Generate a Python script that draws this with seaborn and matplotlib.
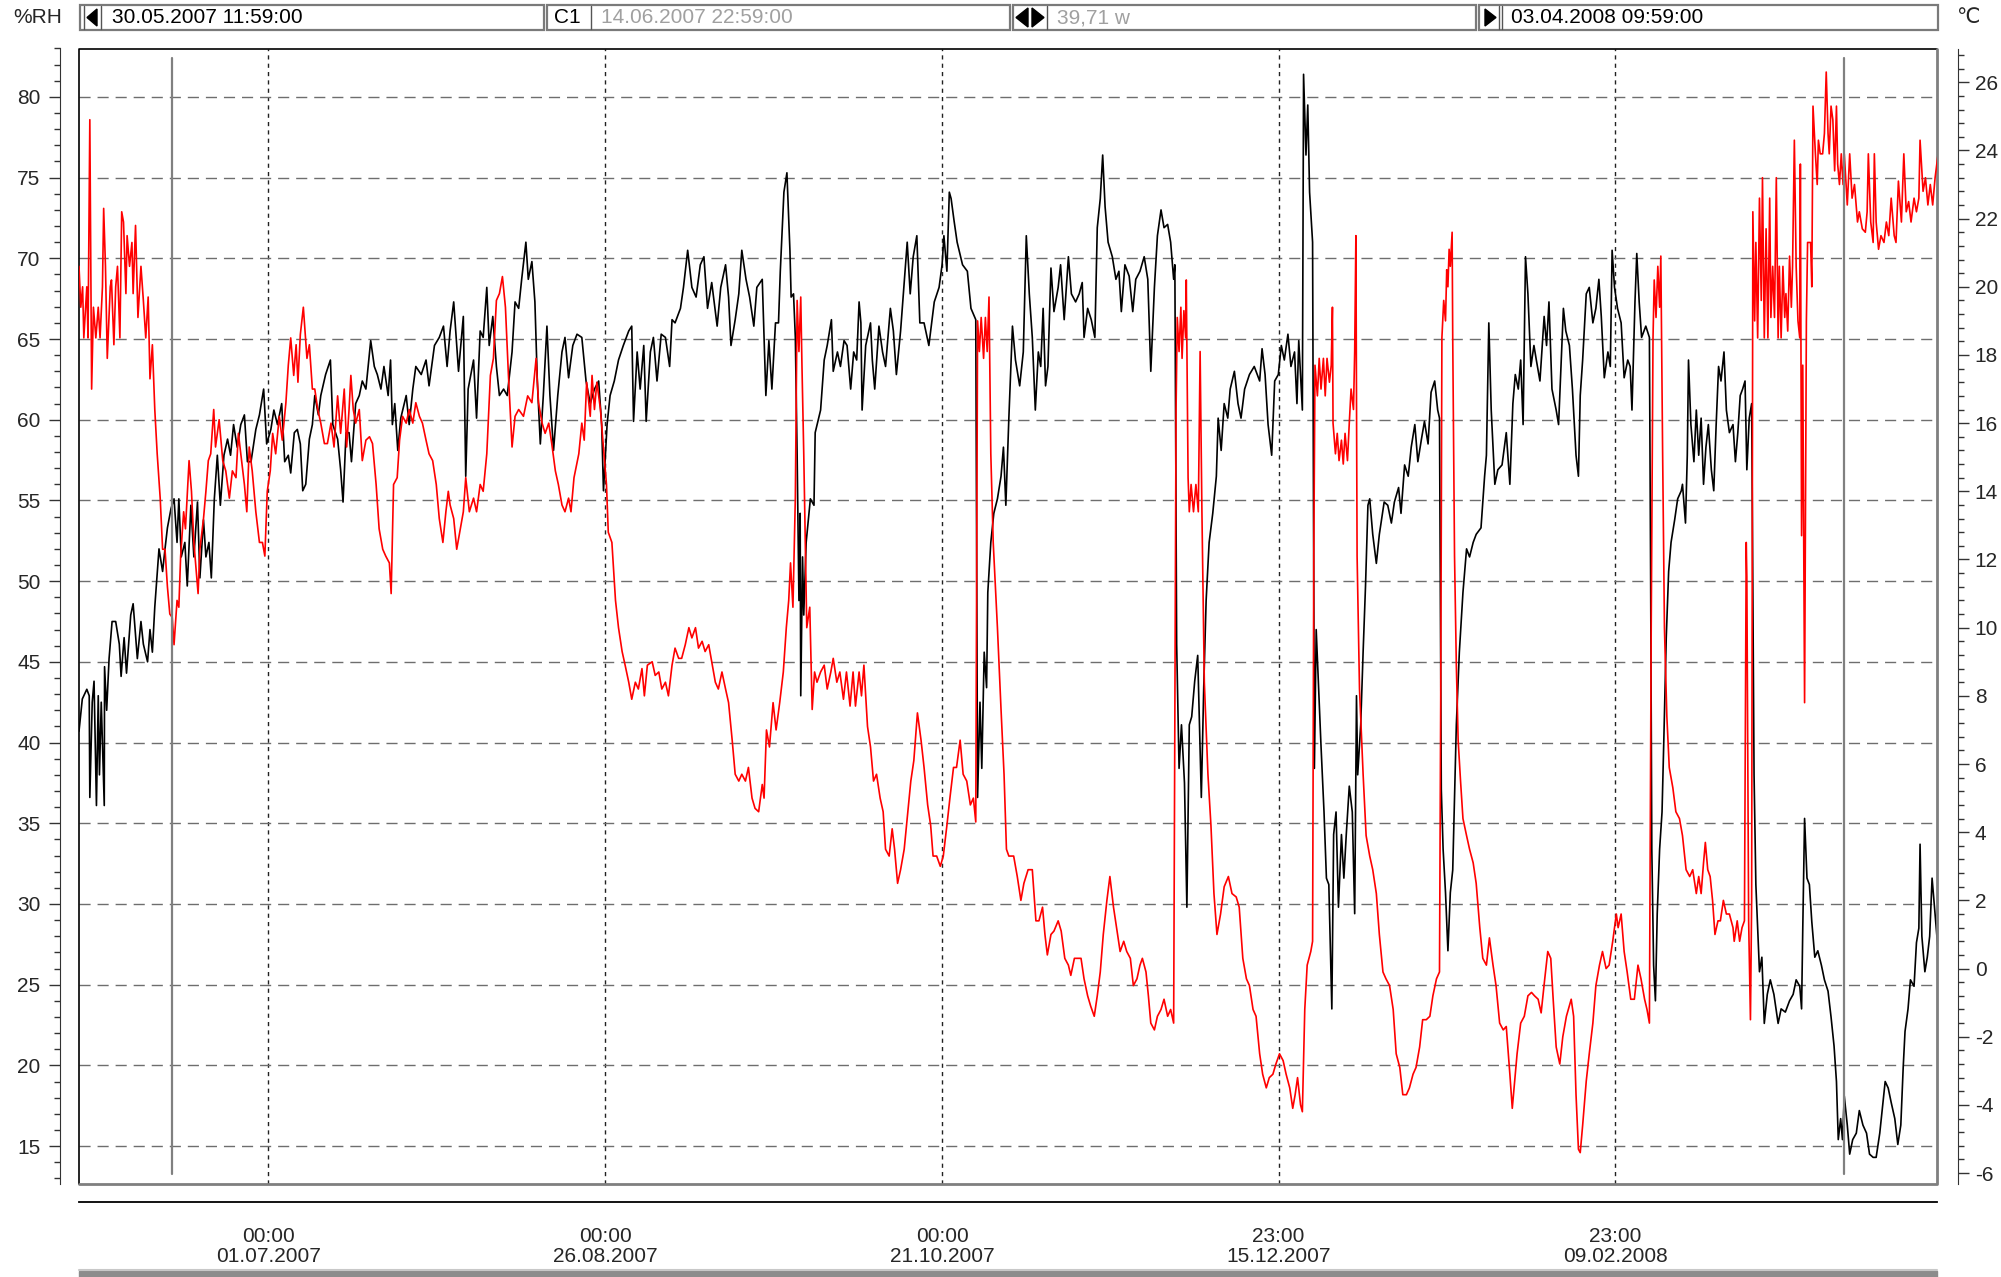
import pandas as pd
import matplotlib
matplotlib.use("Agg")
import matplotlib.pyplot as plt
import matplotlib.dates as mdates
from matplotlib.patches import Rectangle, Polygon
from matplotlib.ticker import MultipleLocator, FixedLocator
import seaborn as sns

# ---- Logger window / cursors (from the header) ----
start = pd.Timestamp("2007-05-30 11:59")
end = pd.Timestamp("2008-04-03 09:59")
cursor_c1 = pd.Timestamp("2007-06-14 22:59")
cursor_span_weeks = 39.71

# ---- Relative humidity (%RH), (days after start, value) ----
rh_readings = [
    (0.0, 40.7), (0.55, 42.7), (1.3, 43.3), (1.7, 42.9), (1.8, 36.6), (2.2, 42.5), (2.5, 43.8), (2.9, 36.1),
    (3.2, 42.9), (3.4, 38.0), (3.7, 42.5), (4.2, 36.1), (4.25, 44.7), (4.6, 42.0), (5.0, 45.2), (5.5, 47.5),
    (6.1, 47.5), (6.7, 46.1), (7.0, 44.1), (7.5, 46.5), (7.9, 44.3), (8.6, 47.9), (9.0, 48.6), (9.7, 45.2),
    (10.3, 47.5), (10.7, 46.1), (11.4, 45.0), (11.8, 47.0), (12.2, 45.6), (12.6, 48.4), (13.3, 52.0), (13.9, 50.6),
    (14.3, 52.0), (14.7, 53.3), (15.3, 54.5), (15.8, 55.1), (16.3, 52.4), (16.6, 55.1), (17.0, 51.5), (17.6, 52.4),
    (18.0, 49.7), (18.6, 54.7), (19.1, 51.5), (19.7, 54.9), (20.1, 50.2), (20.7, 53.8), (21.1, 51.5), (21.6, 52.4),
    (22.0, 50.2), (22.5, 55.1), (23.0, 57.8), (23.5, 54.7), (24.1, 57.8), (24.7, 58.8), (25.2, 57.8), (25.7, 59.7),
    (26.3, 58.3), (26.9, 59.7), (27.5, 60.3), (28.0, 57.4), (28.6, 57.4), (29.4, 59.4), (30.0, 60.3), (30.7, 61.9),
    (31.2, 58.5), (31.9, 59.4), (32.4, 60.6), (33.0, 59.7), (33.7, 61.0), (34.2, 57.4), (34.8, 57.8), (35.2, 56.7),
    (35.8, 59.2), (36.3, 59.4), (36.8, 58.5), (37.2, 55.6), (37.7, 56.0), (38.3, 58.8), (38.8, 59.7), (39.2, 61.5),
    (39.8, 60.3), (40.2, 61.5), (41.0, 62.8), (41.8, 63.7), (42.2, 59.7), (43.0, 58.8), (43.5, 56.9), (43.9, 54.9),
    (44.4, 59.2), (44.9, 59.2), (45.3, 57.4), (46.0, 61.0), (46.6, 61.5), (47.1, 62.4), (47.7, 61.9), (48.5, 64.9),
    (49.1, 63.3), (49.6, 62.8), (50.2, 61.9), (50.7, 63.3), (51.4, 61.5), (51.8, 63.7), (52.1, 59.7), (52.5, 61.0),
    (53.0, 58.1), (53.5, 60.1), (54.4, 61.5), (54.9, 59.7), (55.5, 61.9), (56.0, 63.3), (56.9, 62.8), (57.7, 63.7),
    (58.2, 62.1), (59.1, 64.6), (59.9, 65.1), (60.6, 65.8), (61.2, 63.3), (61.7, 65.5), (62.3, 67.3), (63.1, 63.0),
    (63.9, 66.4), (64.3, 56.5), (64.7, 61.9), (65.6, 63.7), (66.1, 60.1), (66.7, 65.5), (67.2, 65.1), (67.8, 68.2),
    (68.2, 64.6), (68.8, 66.4), (69.4, 63.3), (69.9, 61.5), (70.6, 61.9), (71.2, 61.5), (72.0, 64.2), (72.5, 67.3),
    (73.1, 66.9), (73.6, 68.7), (74.3, 71.0), (74.7, 68.7), (75.3, 69.8), (75.8, 67.3), (76.2, 62.4), (76.7, 58.5),
    (77.2, 61.5), (77.8, 65.8), (78.3, 61.5), (78.9, 58.1), (79.6, 61.5), (80.3, 64.2), (80.8, 65.1), (81.4, 62.6),
    (82.1, 64.6), (82.8, 65.3), (83.6, 65.1), (84.3, 62.4), (85.0, 61.0), (85.7, 61.9), (86.4, 62.4), (86.9, 59.7),
    (87.2, 55.6), (87.8, 59.7), (88.3, 61.5), (89.0, 62.4), (89.7, 63.7), (90.5, 64.6), (91.4, 65.5), (91.9, 65.8),
    (92.2, 59.9), (92.8, 64.2), (93.3, 61.9), (93.9, 64.6), (94.3, 59.9), (95.0, 64.2), (95.5, 65.1), (96.1, 62.4),
    (96.8, 65.3), (97.5, 65.1), (98.2, 63.3), (98.6, 66.2), (99.1, 66.0), (100.0, 66.9), (100.5, 68.2), (101.2, 70.5),
    (101.9, 68.2), (102.6, 67.6), (103.3, 69.6), (103.9, 70.1), (104.5, 66.9), (105.2, 68.5), (106.1, 65.8), (106.7, 68.2),
    (107.5, 69.6), (108.0, 67.6), (108.4, 64.6), (109.1, 66.2), (109.7, 67.8), (110.2, 70.5), (110.9, 68.7), (111.5, 67.6),
    (112.2, 65.8), (112.7, 68.2), (113.6, 68.7), (114.2, 61.5), (114.7, 64.9), (115.2, 61.9), (115.8, 66.0), (116.3, 66.0),
    (116.6, 69.2), (117.2, 74.1), (117.7, 75.3), (118.2, 70.5), (118.4, 67.6), (118.8, 67.8), (119.1, 65.1), (119.4, 57.8),
    (119.7, 48.8), (119.9, 54.2), (120.0, 42.9), (120.3, 51.5), (120.5, 47.9), (120.9, 52.4), (121.6, 55.1), (122.2, 54.7),
    (122.4, 59.2), (123.3, 60.6), (123.9, 63.7), (124.4, 64.6), (125.1, 66.2), (125.4, 63.0), (126.1, 64.2), (126.6, 63.3),
    (127.2, 64.9), (127.7, 64.6), (128.3, 61.9), (128.8, 64.2), (129.3, 63.7), (129.7, 67.3), (130.0, 66.0), (130.2, 60.6),
    (130.8, 64.6), (131.6, 66.0), (131.9, 63.7), (132.3, 61.9), (133.0, 65.8), (133.6, 64.2), (134.1, 63.3), (134.9, 66.9),
    (135.4, 65.5), (135.9, 62.8), (136.6, 65.5), (137.2, 68.5), (137.7, 71.0), (138.2, 67.8), (138.7, 70.1), (139.3, 71.4),
    (139.8, 66.0), (140.5, 66.0), (141.3, 64.6), (142.2, 67.3), (143.0, 68.2), (143.5, 69.6), (143.8, 71.4), (144.3, 69.2),
    (144.7, 74.1), (145.0, 73.7), (145.5, 72.3), (146.0, 71.0), (146.9, 69.6), (147.7, 69.2), (148.3, 66.9), (149.1, 66.2),
    (149.4, 36.6), (149.8, 42.5), (150.1, 38.4), (150.5, 45.6), (150.9, 43.4), (151.1, 49.3), (151.6, 52.4), (152.1, 54.2),
    (152.7, 55.1), (153.3, 56.5), (153.7, 58.3), (154.1, 54.7), (154.6, 60.1), (155.2, 65.8), (155.7, 63.7), (156.4, 62.1),
    (157.0, 64.2), (157.5, 71.4), (158.0, 67.8), (158.5, 65.1), (159.0, 60.6), (159.5, 64.2), (159.9, 63.3), (160.3, 66.9),
    (160.7, 62.1), (161.1, 63.3), (161.6, 69.4), (162.1, 66.7), (162.8, 68.2), (163.2, 69.6), (163.8, 66.2), (164.5, 70.1),
    (165.0, 67.8), (165.7, 67.3), (166.3, 67.8), (166.8, 68.5), (167.1, 65.1), (167.7, 66.9), (168.3, 66.2), (168.9, 65.1),
    (169.3, 71.9), (169.8, 73.7), (170.2, 76.4), (170.6, 73.2), (171.1, 71.0), (171.8, 70.1), (172.4, 68.7), (172.9, 69.2),
    (173.3, 66.7), (173.9, 69.6), (174.6, 68.9), (175.2, 66.7), (175.7, 68.7), (176.4, 69.2), (177.1, 70.1), (177.7, 68.7),
    (178.2, 63.0), (178.8, 68.2), (179.3, 71.4), (179.9, 73.0), (180.4, 71.9), (181.0, 72.1), (181.5, 71.0), (182.0, 68.7),
    (182.2, 69.6), (182.5, 46.1), (182.9, 38.4), (183.3, 41.1), (183.8, 37.5), (184.2, 29.8), (184.6, 41.1), (185.0, 41.6),
    (185.5, 43.8), (186.0, 45.4), (186.6, 36.6), (187.0, 43.4), (187.4, 48.8), (187.9, 52.4), (188.5, 54.2), (189.1, 56.5),
    (189.4, 60.1), (189.9, 58.1), (190.4, 61.0), (191.0, 60.1), (191.4, 61.9), (192.1, 63.0), (192.7, 61.0), (193.2, 60.1),
    (193.8, 61.9), (194.6, 62.8), (195.4, 63.3), (196.3, 62.4), (196.7, 64.4), (197.2, 62.8), (197.7, 59.7), (198.3, 57.8),
    (198.8, 62.4), (199.4, 62.8), (199.9, 64.6), (200.4, 63.7), (201.0, 65.3), (201.5, 63.3), (202.1, 64.2), (202.5, 61.0),
    (202.8, 64.9), (203.4, 60.6), (203.6, 81.4), (204.0, 76.4), (204.3, 79.5), (204.6, 74.1), (205.1, 71.0), (205.4, 38.4),
    (205.7, 47.0), (206.1, 43.4), (206.5, 39.8), (207.0, 35.7), (207.4, 31.6), (207.8, 31.2), (208.1, 26.7), (208.3, 23.5),
    (208.6, 34.3), (209.0, 35.7), (209.4, 29.8), (209.9, 34.3), (210.3, 31.6), (210.7, 34.3), (211.2, 37.3), (211.7, 35.7),
    (212.1, 29.4), (212.4, 42.9), (212.6, 38.0), (213.1, 41.1), (213.5, 45.6), (213.9, 49.7), (214.3, 54.7), (214.6, 55.1),
    (215.1, 52.9), (215.7, 51.1), (216.2, 52.9), (217.0, 54.9), (217.6, 54.7), (218.2, 53.6), (218.7, 54.9), (219.4, 55.8),
    (219.8, 54.2), (220.4, 57.2), (221.0, 56.5), (221.5, 58.3), (222.1, 59.7), (222.6, 57.4), (223.2, 58.8), (223.7, 59.9),
    (224.3, 58.5), (224.8, 61.7), (225.4, 62.4), (225.9, 60.6), (226.2, 60.1), (226.5, 37.1), (226.8, 33.4), (227.2, 30.7),
    (227.6, 27.1), (228.0, 30.7), (228.4, 32.1), (229.0, 41.1), (229.5, 45.6), (230.1, 49.3), (230.7, 52.0), (231.2, 51.5),
    (231.8, 52.4), (232.3, 52.9), (233.1, 53.3), (233.7, 56.5), (234.0, 57.8), (234.4, 66.0), (234.8, 60.6), (235.4, 56.0),
    (235.9, 56.9), (236.6, 57.2), (237.3, 59.2), (237.9, 56.0), (238.4, 61.0), (238.8, 62.8), (239.3, 61.9), (239.7, 63.7),
    (240.1, 59.7), (240.5, 70.1), (240.9, 67.8), (241.4, 63.3), (241.9, 64.6), (242.3, 63.7), (242.9, 62.4), (243.6, 66.4),
    (244.0, 64.6), (244.4, 67.3), (244.9, 61.9), (245.6, 60.6), (246.0, 59.7), (246.5, 64.2), (246.8, 66.9), (247.2, 65.5),
    (247.8, 64.6), (248.3, 61.9), (248.9, 57.8), (249.3, 56.5), (249.6, 61.5), (250.0, 63.7), (250.6, 67.8), (251.1, 68.2),
    (251.7, 66.0), (252.2, 66.9), (252.7, 68.7), (253.1, 66.4), (253.6, 62.6), (254.2, 64.2), (254.6, 63.3), (254.9, 70.5),
    (255.3, 68.2), (255.8, 66.9), (256.4, 66.0), (256.9, 62.6), (257.5, 63.7), (257.9, 63.3), (258.2, 60.6), (258.7, 67.3),
    (259.0, 70.3), (259.4, 67.3), (259.8, 65.1), (260.5, 65.8), (261.1, 65.1), (261.3, 50.6), (261.5, 33.4), (261.8, 26.2),
    (262.1, 24.0), (262.4, 29.4), (262.8, 33.4), (263.2, 35.7), (263.5, 40.2), (263.9, 46.5), (264.3, 50.6), (264.7, 52.4),
    (265.3, 53.8), (265.8, 55.1), (266.4, 55.6), (266.6, 56.0), (267.1, 53.6), (267.4, 57.8), (267.6, 63.7), (268.0, 59.7),
    (268.5, 57.4), (268.9, 60.6), (269.3, 57.8), (269.7, 60.1), (270.1, 56.0), (270.5, 58.3), (270.9, 59.7), (271.4, 56.9),
    (271.8, 55.6), (272.2, 59.7), (272.6, 63.3), (273.0, 62.4), (273.5, 64.2), (273.9, 60.6), (274.4, 59.2), (275.0, 59.7),
    (275.4, 57.4), (275.8, 59.2), (276.2, 61.5), (276.6, 61.9), (277.0, 62.4), (277.3, 56.9), (277.7, 60.1), (278.1, 61.0),
    (278.5, 38.0), (278.8, 31.2), (279.4, 25.8), (279.8, 26.7), (280.2, 22.6), (280.7, 24.4), (281.2, 25.3), (281.8, 24.4),
    (282.5, 22.6), (283.0, 23.5), (283.7, 23.3), (284.4, 24.0), (285.0, 24.4), (285.5, 25.3), (286.1, 24.9), (286.4, 23.5),
    (286.6, 28.5), (286.9, 35.3), (287.3, 31.6), (287.7, 31.2), (288.1, 28.9), (288.6, 26.7), (289.1, 27.1), (289.7, 26.2),
    (290.2, 25.3), (290.8, 24.6), (291.3, 23.0), (291.8, 21.2), (292.2, 19.0), (292.5, 15.4), (292.9, 16.7), (293.2, 15.4),
    (293.5, 18.1), (294.0, 16.3), (294.4, 14.5), (294.9, 15.4), (295.5, 15.8), (296.0, 17.2), (296.6, 16.3), (297.2, 15.8),
    (297.7, 14.5), (298.3, 14.3), (298.8, 14.3), (299.4, 15.8), (299.8, 17.2), (300.3, 19.0), (300.8, 18.6), (301.3, 17.7),
    (301.9, 16.7), (302.4, 15.1), (302.9, 16.3), (303.3, 19.9), (303.6, 22.1), (304.1, 23.5), (304.5, 25.3), (305.1, 24.9),
    (305.5, 27.6), (305.9, 28.5), (306.1, 33.7), (306.4, 28.0), (306.9, 25.8), (307.3, 26.7), (307.7, 28.0), (308.1, 31.6),
    (308.5, 29.8), (309.1, 27.1),
]

# ---- Temperature (°C), (days after start, value) ----
temp_readings = [
    (0.0, 20.6), (0.3, 19.4), (0.6, 20.0), (0.8, 18.5), (1.3, 20.0), (1.5, 18.5), (1.8, 24.9), (2.1, 17.0),
    (2.4, 19.4), (2.8, 18.5), (3.2, 19.4), (3.5, 18.5), (3.9, 20.0), (4.1, 22.3), (4.4, 20.6), (4.7, 17.9),
    (5.2, 20.0), (5.4, 20.2), (5.8, 18.3), (6.1, 20.0), (6.4, 20.6), (6.8, 18.5), (7.1, 22.2), (7.4, 21.9),
    (7.8, 19.8), (8.0, 21.5), (8.4, 20.6), (8.8, 21.3), (9.0, 19.8), (9.4, 21.8), (9.8, 19.1), (10.3, 20.6),
    (10.7, 19.6), (11.1, 18.5), (11.5, 19.7), (11.8, 17.3), (12.2, 18.3), (12.6, 16.4), (13.0, 15.1), (13.5, 13.8),
    (13.9, 12.3), (14.3, 12.3), (14.7, 11.2), (15.1, 10.4), (15.5, 10.3), (15.8, 9.5), (16.3, 10.8), (16.6, 10.6),
    (16.9, 12.1), (17.4, 13.4), (17.7, 12.9), (18.3, 14.9), (18.7, 14.0), (19.1, 12.5), (19.8, 11.0), (20.1, 12.3),
    (20.7, 13.2), (21.1, 14.0), (21.5, 14.9), (21.9, 15.1), (22.4, 16.4), (22.7, 15.3), (23.3, 16.1), (23.9, 14.9),
    (24.4, 14.6), (25.0, 13.8), (25.5, 14.6), (26.1, 14.4), (26.5, 15.7), (26.9, 15.1), (27.5, 14.2), (27.9, 13.4),
    (28.3, 15.3), (28.8, 14.6), (29.4, 13.4), (30.0, 12.5), (30.5, 12.5), (30.9, 12.1), (31.3, 14.0), (31.8, 14.6),
    (32.2, 15.7), (32.7, 15.1), (33.3, 16.2), (33.8, 15.5), (34.4, 16.6), (34.8, 17.7), (35.2, 18.5), (35.7, 17.4),
    (36.1, 18.3), (36.4, 17.2), (36.8, 18.6), (37.3, 19.4), (37.9, 17.9), (38.3, 18.3), (38.8, 17.0), (39.2, 17.0),
    (39.7, 16.4), (40.2, 16.0), (40.8, 15.4), (41.3, 15.4), (41.9, 16.0), (42.4, 15.3), (43.0, 16.8), (43.5, 15.7),
    (44.1, 17.0), (44.5, 15.3), (44.9, 16.4), (45.2, 17.4), (45.6, 16.4), (46.0, 16.0), (46.6, 16.4), (47.1, 14.9),
    (47.7, 15.5), (48.3, 15.6), (48.8, 15.4), (49.4, 14.2), (49.9, 12.9), (50.5, 12.3), (51.0, 12.1), (51.6, 11.9),
    (51.9, 11.0), (52.3, 14.2), (52.9, 14.4), (53.3, 15.5), (53.8, 16.2), (54.4, 16.0), (54.9, 16.4), (55.5, 16.0),
    (56.0, 16.6), (56.6, 16.2), (57.1, 16.0), (57.7, 15.5), (58.2, 15.1), (58.8, 14.9), (59.4, 14.2), (59.9, 13.2),
    (60.5, 12.5), (61.0, 13.4), (61.4, 14.0), (61.7, 13.6), (62.3, 13.2), (62.8, 12.3), (63.4, 12.9), (63.9, 13.4),
    (64.3, 14.4), (64.9, 13.4), (65.6, 13.8), (66.1, 13.4), (66.7, 14.2), (67.2, 14.0), (67.8, 15.1), (68.4, 17.4),
    (68.9, 17.9), (69.4, 19.6), (69.9, 19.8), (70.4, 20.3), (70.9, 19.4), (71.4, 17.4), (72.0, 15.3), (72.5, 16.2),
    (73.1, 16.4), (73.9, 16.2), (74.6, 16.8), (75.3, 16.6), (76.0, 17.9), (76.4, 16.6), (77.0, 16.0), (77.5, 15.7),
    (78.1, 16.0), (78.6, 15.4), (79.2, 14.6), (79.7, 14.2), (80.3, 13.6), (80.8, 13.4), (81.4, 13.8), (81.8, 13.4),
    (82.3, 14.4), (83.1, 15.1), (83.6, 16.0), (84.0, 15.5), (84.4, 17.2), (85.0, 16.2), (85.3, 17.4), (85.7, 16.4),
    (86.1, 17.2), (86.7, 16.4), (87.1, 15.5), (87.7, 14.2), (88.0, 12.8), (88.6, 12.5), (89.2, 10.8), (89.7, 10.0),
    (90.3, 9.3), (90.8, 8.9), (91.4, 8.4), (91.9, 7.9), (92.5, 8.4), (93.0, 8.2), (93.6, 8.8), (94.0, 8.0),
    (94.5, 8.9), (95.3, 9.0), (95.8, 8.6), (96.4, 8.7), (96.9, 8.2), (97.5, 8.4), (98.0, 8.0), (98.6, 8.9),
    (99.1, 9.4), (99.7, 9.1), (100.2, 9.1), (100.8, 9.5), (101.4, 10.0), (101.9, 9.7), (102.5, 10.0), (103.0, 9.4),
    (103.6, 9.6), (104.1, 9.3), (104.7, 9.5), (105.2, 9.0), (105.8, 8.4), (106.3, 8.2), (106.9, 8.7), (107.5, 8.2),
    (108.0, 7.8), (108.6, 6.7), (109.1, 5.7), (109.7, 5.5), (110.2, 5.7), (110.8, 5.5), (111.3, 5.9), (111.9, 5.0),
    (112.4, 4.7), (113.0, 4.6), (113.6, 5.4), (113.9, 5.0), (114.3, 7.0), (114.8, 6.5), (115.4, 7.8), (115.9, 7.0),
    (116.5, 7.8), (117.1, 8.7), (117.6, 10.0), (118.0, 10.8), (118.3, 11.9), (118.7, 10.6), (119.1, 13.8), (119.4, 19.6),
    (119.7, 18.1), (120.0, 19.7), (120.2, 17.7), (120.5, 15.1), (120.8, 12.1), (121.0, 10.0), (121.5, 10.6), (121.9, 7.6),
    (122.3, 8.7), (122.7, 8.4), (123.3, 8.7), (123.9, 8.9), (124.4, 8.2), (125.0, 8.7), (125.4, 9.1), (126.0, 8.4),
    (126.5, 8.7), (127.1, 7.9), (127.6, 8.7), (128.2, 7.7), (128.7, 8.7), (129.1, 7.7), (129.7, 8.7), (130.1, 8.0),
    (130.5, 8.9), (131.1, 7.1), (131.6, 6.5), (132.1, 5.5), (132.6, 5.7), (133.2, 5.0), (133.7, 4.6), (134.1, 3.5),
    (134.7, 3.3), (135.2, 4.1), (135.6, 3.5), (136.1, 2.5), (136.6, 2.9), (137.2, 3.5), (137.7, 4.4), (138.3, 5.5),
    (138.8, 6.1), (139.4, 7.5), (140.0, 6.7), (140.5, 5.9), (141.1, 4.8), (141.6, 4.2), (142.0, 3.3), (142.6, 3.3),
    (143.2, 3.0), (143.7, 3.3), (144.3, 4.2), (144.8, 5.0), (145.4, 5.9), (145.9, 5.9), (146.5, 6.7), (147.0, 5.7),
    (147.6, 5.5), (148.2, 4.8), (148.7, 5.0), (149.1, 4.3), (149.4, 19.0), (149.7, 18.1), (150.0, 19.1), (150.4, 17.9),
    (150.7, 19.1), (151.0, 18.1), (151.3, 19.7), (151.6, 15.1), (152.0, 12.5), (152.7, 10.0), (153.3, 7.6), (153.8, 5.7),
    (154.2, 3.5), (154.6, 3.3), (155.4, 3.3), (156.0, 2.7), (156.6, 2.0), (157.1, 2.5), (157.8, 2.9), (158.5, 2.9),
    (159.1, 1.4), (159.6, 1.4), (160.2, 1.8), (160.6, 1.0), (161.0, 0.4), (161.6, 1.0), (162.1, 1.1), (162.8, 1.4),
    (163.3, 1.1), (163.9, 0.3), (164.5, 0.1), (164.9, -0.2), (165.5, 0.3), (166.0, 0.3), (166.6, 0.3), (167.1, -0.3),
    (167.7, -0.8), (168.2, -1.1), (168.8, -1.4), (169.3, -0.8), (169.8, -0.1), (170.3, 1.0), (170.9, 2.0), (171.4, 2.7),
    (172.0, 1.8), (172.5, 1.2), (173.1, 0.5), (173.7, 0.8), (174.2, 0.5), (174.8, 0.3), (175.3, -0.5), (175.9, -0.3),
    (176.4, 0.1), (176.8, 0.3), (177.4, -0.1), (177.8, -0.8), (178.2, -1.6), (178.8, -1.8), (179.3, -1.4), (179.9, -1.2),
    (180.4, -0.9), (181.0, -1.4), (181.5, -1.2), (182.0, -1.6), (182.2, 7.8), (182.4, 16.4), (182.6, 19.1), (182.9, 18.1),
    (183.2, 19.4), (183.4, 17.9), (183.7, 19.3), (184.0, 18.5), (184.1, 20.2), (184.4, 14.4), (184.6, 13.4), (184.9, 14.2),
    (185.3, 13.4), (185.7, 14.2), (186.1, 13.4), (186.4, 18.1), (186.7, 13.4), (187.1, 8.4), (187.7, 5.7), (188.2, 4.2),
    (188.7, 2.2), (189.2, 1.0), (189.8, 1.6), (190.4, 2.4), (191.1, 2.7), (191.7, 2.2), (192.4, 2.1), (192.9, 1.8),
    (193.5, 0.3), (194.1, -0.3), (194.6, -0.5), (195.2, -1.2), (195.7, -1.4), (196.3, -2.5), (196.8, -3.1), (197.4, -3.5),
    (197.9, -3.2), (198.5, -3.1), (199.0, -2.8), (199.6, -2.5), (200.2, -2.7), (200.7, -3.1), (201.3, -3.5), (201.8, -4.1),
    (202.2, -3.7), (202.6, -3.2), (203.1, -4.0), (203.4, -4.2), (203.8, -1.2), (204.2, 0.1), (204.8, 0.5), (205.1, 0.8),
    (205.3, 12.1), (205.5, 17.7), (205.9, 16.8), (206.2, 17.9), (206.5, 17.0), (206.9, 17.9), (207.2, 16.8), (207.5, 17.9),
    (207.9, 17.2), (208.2, 17.7), (208.4, 19.4), (208.5, 16.0), (208.9, 15.1), (209.2, 15.7), (209.5, 14.9), (209.9, 15.5),
    (210.2, 14.8), (210.5, 15.7), (210.9, 14.9), (211.2, 16.0), (211.5, 17.0), (211.9, 16.4), (212.1, 18.1), (212.3, 21.5),
    (212.5, 12.1), (212.9, 8.2), (213.5, 5.7), (214.0, 3.9), (214.6, 3.3), (215.1, 2.9), (215.7, 2.2), (216.2, 1.0),
    (216.8, -0.1), (217.3, -0.3), (217.9, -0.5), (218.5, -1.2), (219.0, -2.5), (219.6, -2.9), (220.1, -3.7), (220.7, -3.7),
    (221.2, -3.5), (221.8, -3.1), (222.3, -2.9), (222.9, -2.3), (223.4, -1.5), (224.0, -1.5), (224.6, -1.4), (225.1, -0.8),
    (225.7, -0.3), (226.2, -0.1), (226.4, 7.8), (226.6, 18.5), (226.9, 19.6), (227.2, 19.0), (227.4, 20.5), (227.6, 20.0),
    (227.8, 21.1), (228.0, 20.6), (228.3, 21.6), (228.4, 18.5), (228.7, 12.1), (229.0, 8.9), (229.3, 6.7), (229.7, 5.5),
    (230.1, 4.4), (230.7, 3.9), (231.2, 3.5), (231.8, 3.1), (232.3, 2.5), (232.9, 1.2), (233.4, 0.3), (234.0, 0.1),
    (234.5, 0.9), (235.1, 0.1), (235.6, -0.5), (236.2, -1.6), (236.8, -1.8), (237.3, -1.7), (237.9, -3.1), (238.3, -4.1),
    (238.7, -3.3), (239.1, -2.5), (239.7, -1.6), (240.3, -1.4), (240.9, -0.8), (241.5, -0.7), (242.0, -0.8), (242.6, -0.9),
    (243.1, -1.3), (243.7, -0.3), (244.2, 0.5), (244.7, 0.3), (245.1, -0.9), (245.6, -2.3), (246.2, -2.8), (246.7, -2.0),
    (247.3, -1.4), (248.1, -0.9), (248.5, -1.4), (248.9, -3.7), (249.3, -5.3), (249.6, -5.4), (250.0, -4.6), (250.6, -3.3),
    (251.1, -2.5), (251.7, -1.6), (252.2, -0.5), (252.8, 0.1), (253.3, 0.5), (253.9, 0.0), (254.4, 0.1), (255.0, 0.8),
    (255.6, 1.6), (255.9, 1.2), (256.4, 1.6), (256.9, 0.5), (257.4, -0.1), (258.0, -0.9), (258.6, -0.9), (259.2, 0.1),
    (259.7, -0.3), (260.3, -0.9), (260.7, -1.2), (261.1, -1.6), (261.4, 10.0), (261.7, 18.5), (261.9, 20.2), (262.2, 19.1),
    (262.5, 20.6), (262.8, 19.4), (263.0, 20.9), (263.3, 15.1), (263.6, 10.0), (264.0, 7.4), (264.4, 5.9), (265.0, 5.3),
    (265.5, 4.6), (266.1, 4.4), (266.6, 3.9), (267.2, 2.9), (267.8, 2.7), (268.3, 2.9), (268.9, 2.2), (269.3, 2.7),
    (269.7, 2.2), (270.1, 3.1), (270.4, 3.7), (270.8, 2.9), (271.2, 2.7), (271.6, 2.0), (272.0, 1.0), (272.5, 1.4),
    (272.9, 1.4), (273.4, 2.0), (273.9, 1.6), (274.4, 1.6), (275.0, 1.2), (275.2, 0.8), (275.7, 1.4), (276.1, 0.8),
    (276.5, 1.2), (276.9, 1.4), (277.2, 12.5), (277.3, 11.5), (277.6, 1.4), (277.9, -1.5), (278.1, 2.0), (278.3, 22.2),
    (278.6, 19.0), (278.8, 21.3), (279.1, 18.5), (279.4, 22.6), (279.7, 19.6), (279.9, 23.2), (280.2, 18.5), (280.5, 21.7),
    (280.8, 18.5), (281.1, 22.6), (281.3, 19.1), (281.6, 20.6), (281.9, 19.1), (282.2, 23.2), (282.5, 18.5), (282.7, 20.6),
    (283.0, 18.5), (283.3, 20.6), (283.6, 19.1), (283.8, 19.8), (284.1, 18.7), (284.4, 20.9), (284.7, 19.4), (284.9, 20.6),
    (285.2, 24.3), (285.5, 20.6), (285.8, 19.0), (286.1, 18.5), (286.2, 23.6), (286.4, 12.7), (286.6, 17.7), (286.9, 7.8),
    (287.2, 19.0), (287.4, 21.3), (287.9, 21.3), (288.1, 20.0), (288.3, 25.3), (288.7, 23.9), (289.0, 23.0), (289.2, 24.3),
    (289.5, 23.9), (289.9, 23.9), (290.2, 24.5), (290.5, 26.3), (290.8, 24.5), (291.0, 23.9), (291.3, 25.3), (291.6, 24.9),
    (291.9, 23.4), (292.2, 25.3), (292.4, 23.6), (292.7, 23.0), (293.0, 23.9), (293.3, 23.0), (293.5, 23.9), (294.0, 22.4),
    (294.4, 23.9), (294.8, 22.6), (295.2, 23.0), (295.7, 21.9), (296.0, 22.2), (296.5, 21.7), (297.0, 21.6), (297.3, 22.2),
    (297.5, 23.9), (297.9, 21.9), (298.3, 21.3), (298.5, 23.9), (298.8, 21.9), (299.2, 21.1), (299.6, 21.5), (300.1, 21.3),
    (300.5, 21.9), (300.9, 21.5), (301.3, 22.6), (301.8, 21.5), (302.1, 21.3), (302.5, 23.1), (303.0, 21.9), (303.4, 23.9),
    (303.8, 22.2), (304.2, 22.5), (304.6, 21.9), (305.1, 22.6), (305.5, 22.2), (305.9, 22.6), (306.1, 24.3), (306.6, 22.8),
    (307.0, 23.2), (307.4, 22.4), (307.8, 23.0), (308.2, 22.4), (308.6, 23.2), (309.1, 23.9),
]

# ---- Time axis ----
tick_dates = ["2007-07-01 00:00", "2007-08-26 00:00", "2007-10-21 00:00", "2007-12-15 23:00", "2008-02-09 23:00"]
tick_labels = ["00:00\n01.07.2007", "00:00\n26.08.2007", "00:00\n21.10.2007", "23:00\n15.12.2007", "23:00\n09.02.2008"]
minor_step_days = 11.2

# ---- Header texts ----
header_left = "30.05.2007 11:59:00"
header_c1 = "14.06.2007 22:59:00"
header_span = "39,71 w"
header_right = "03.04.2008 09:59:00"

# ---- Build frames ----
rh = pd.DataFrame(rh_readings, columns=["day", "rh"])
rh["time"] = start + pd.to_timedelta(rh["day"], unit="D")
temp = pd.DataFrame(temp_readings, columns=["day", "temp"])
temp["time"] = start + pd.to_timedelta(temp["day"], unit="D")
cursor_c2 = cursor_c1 + pd.Timedelta(weeks=cursor_span_weeks)
ticks = pd.to_datetime(tick_dates)

sns.set_style("white")
plt.rcParams["font.family"] = ["Liberation Sans", "DejaVu Sans"]
plt.rcParams["axes.unicode_minus"] = False

W, H = 2001, 1277
PT = 72 / 100  # points per pixel at dpi 100
fig = plt.figure(figsize=(W / 100, H / 100), dpi=100)


def box(x0, y0, x1, y1):
    return [x0 / W, 1 - y1 / H, (x1 - x0) / W, (y1 - y0) / H]


ax = fig.add_axes(box(79, 48.5, 1937, 1184))
ax2 = ax.twinx()

sns.lineplot(data=rh, x="time", y="rh", ax=ax, color="black", linewidth=1.2,
             estimator=None, sort=False)
sns.lineplot(data=temp, x="time", y="temp", ax=ax2, color="#ff0000", linewidth=1.2,
             estimator=None, sort=False)

ax.set_xlim(start, end)
ax.set_ylim(12.65, 83.0)
ax2.set_ylim(-6.32, 26.99)
for a in (ax, ax2):
    a.set_xlabel("")
    a.set_ylabel("")

# left %RH axis
for s in ["top", "bottom", "right"]:
    ax.spines[s].set_visible(False)
ax.spines["left"].set_position(("outward", 19 * PT))
ax.spines["left"].set_color("#333333")
ax.yaxis.set_major_locator(MultipleLocator(5))
ax.yaxis.set_minor_locator(MultipleLocator(1))
ax.tick_params(axis="y", which="major", left=True, length=8, width=1, color="#333333",
               labelsize=15, pad=6)
ax.tick_params(axis="y", which="minor", left=True, length=4.5, width=1, color="#333333")
ax.xaxis.set_major_locator(FixedLocator(mdates.date2num(ticks)))
ax.tick_params(axis="x", length=0, labelbottom=False)
ax.xaxis.grid(True, color="#222222", linestyle=(0, (3, 3)), linewidth=1)
ax.yaxis.grid(True, which="major", color="#6e6e6e", linestyle=(0, (8, 5)), linewidth=1)

# right °C axis
for s in ["top", "bottom", "left"]:
    ax2.spines[s].set_visible(False)
ax2.spines["right"].set_position(("outward", 21 * PT))
ax2.spines["right"].set_color("#333333")
ax2.yaxis.set_major_locator(MultipleLocator(2))
ax2.yaxis.set_minor_locator(MultipleLocator(0.4))
ax2.tick_params(axis="y", which="major", right=True, length=8, width=1, color="#333333",
                labelsize=15, pad=4)
ax2.tick_params(axis="y", which="minor", right=True, length=4.5, width=1, color="#333333")
ax2.grid(False)

# plot frame
ax.plot([0, 0, 1], [0, 1, 1], transform=ax.transAxes, color="black", lw=1.2, clip_on=False)
ax.plot([0, 1, 1], [0, 0, 1], transform=ax.transAxes, color="#7f7f7f", lw=2, clip_on=False)

# cursor lines
for c in (cursor_c1, cursor_c2):
    ax2.axvline(c, ymin=0.009, ymax=0.992, color="#808080", lw=1.6)

# separate time axis below the plot
axt = fig.add_axes(box(79, 1201, 1937, 1202))
axt.set_xlim(start, end)
axt.patch.set_visible(False)
for s in ["top", "left", "right"]:
    axt.spines[s].set_visible(False)
axt.spines["bottom"].set_color("black")
axt.spines["bottom"].set_linewidth(1.3)
axt.set_yticks([])
minor_ticks = [ticks[0] + pd.Timedelta(days=minor_step_days * k) for k in range(-2, 25)]
minor_ticks = [t for t in minor_ticks if start <= t <= end]
axt.xaxis.set_major_locator(FixedLocator(mdates.date2num(ticks)))
axt.xaxis.set_minor_locator(FixedLocator(mdates.date2num(minor_ticks)))
axt.set_xticklabels(tick_labels)
axt.tick_params(axis="x", which="major", length=10, width=1, labelsize=15, pad=8)
axt.tick_params(axis="x", which="minor", length=6, width=1)
for lbl in axt.get_xticklabels():
    lbl.set_linespacing(1.1)

# header / footer overlay in pixel coordinates
ov = fig.add_axes([0, 0, 1, 1])
ov.set_xlim(0, W)
ov.set_ylim(H, 0)
ov.axis("off")

ty = 17.5
ov.text(13, ty, "%RH", fontsize=15, va="center", ha="left")
ov.text(1956, ty, "℃", fontsize=15, va="center", ha="left")
for x0, x1 in [(80, 544), (547, 1010), (1013, 1476), (1479, 1938)]:
    ov.add_patch(Rectangle((x0, 5), x1 - x0, 25, fill=False, ec="#7a7a7a", lw=1.6))
# box A: back button
ov.plot([84, 84], [6, 29], color="#555555", lw=1)
ov.add_patch(Polygon([(87, ty), (97, 9), (97, 26)], closed=True, color="black"))
ov.plot([101, 101], [6, 29], color="#555555", lw=1)
ov.text(112, ty, header_left, fontsize=15, va="center", ha="left", color="black")
# box B: cursor C1
ov.text(554, ty, "C1", fontsize=15, va="center", ha="left", color="black")
ov.plot([591, 591], [6, 29], color="#555555", lw=1)
ov.text(601, ty, header_c1, fontsize=15, va="center", ha="left", color="#a0a0a0")
# box C: span
ov.add_patch(Polygon([(1016, ty), (1028, 8), (1028, 27)], closed=True, color="black"))
ov.add_patch(Polygon([(1044, ty), (1032, 8), (1032, 27)], closed=True, color="black"))
ov.plot([1047, 1047], [6, 29], color="#555555", lw=1)
ov.text(1057, ty, header_span, fontsize=15, va="center", ha="left", color="#a0a0a0")
# box D: forward button
ov.add_patch(Polygon([(1496, ty), (1485, 9), (1485, 26)], closed=True, color="black"))
ov.plot([1499, 1499], [6, 29], color="#555555", lw=1)
ov.plot([1502, 1502], [6, 29], color="#555555", lw=1)
ov.text(1511, ty, header_right, fontsize=15, va="center", ha="left", color="black")

# scroll bar at the bottom
ov.plot([79, 1937], [1269.5, 1269.5], color="#c8c8c8", lw=1.5)
ov.add_patch(Rectangle((79, 1271), 1858, 6, color="#8c8c8c"))

fig.savefig("out.png", dpi=100)
